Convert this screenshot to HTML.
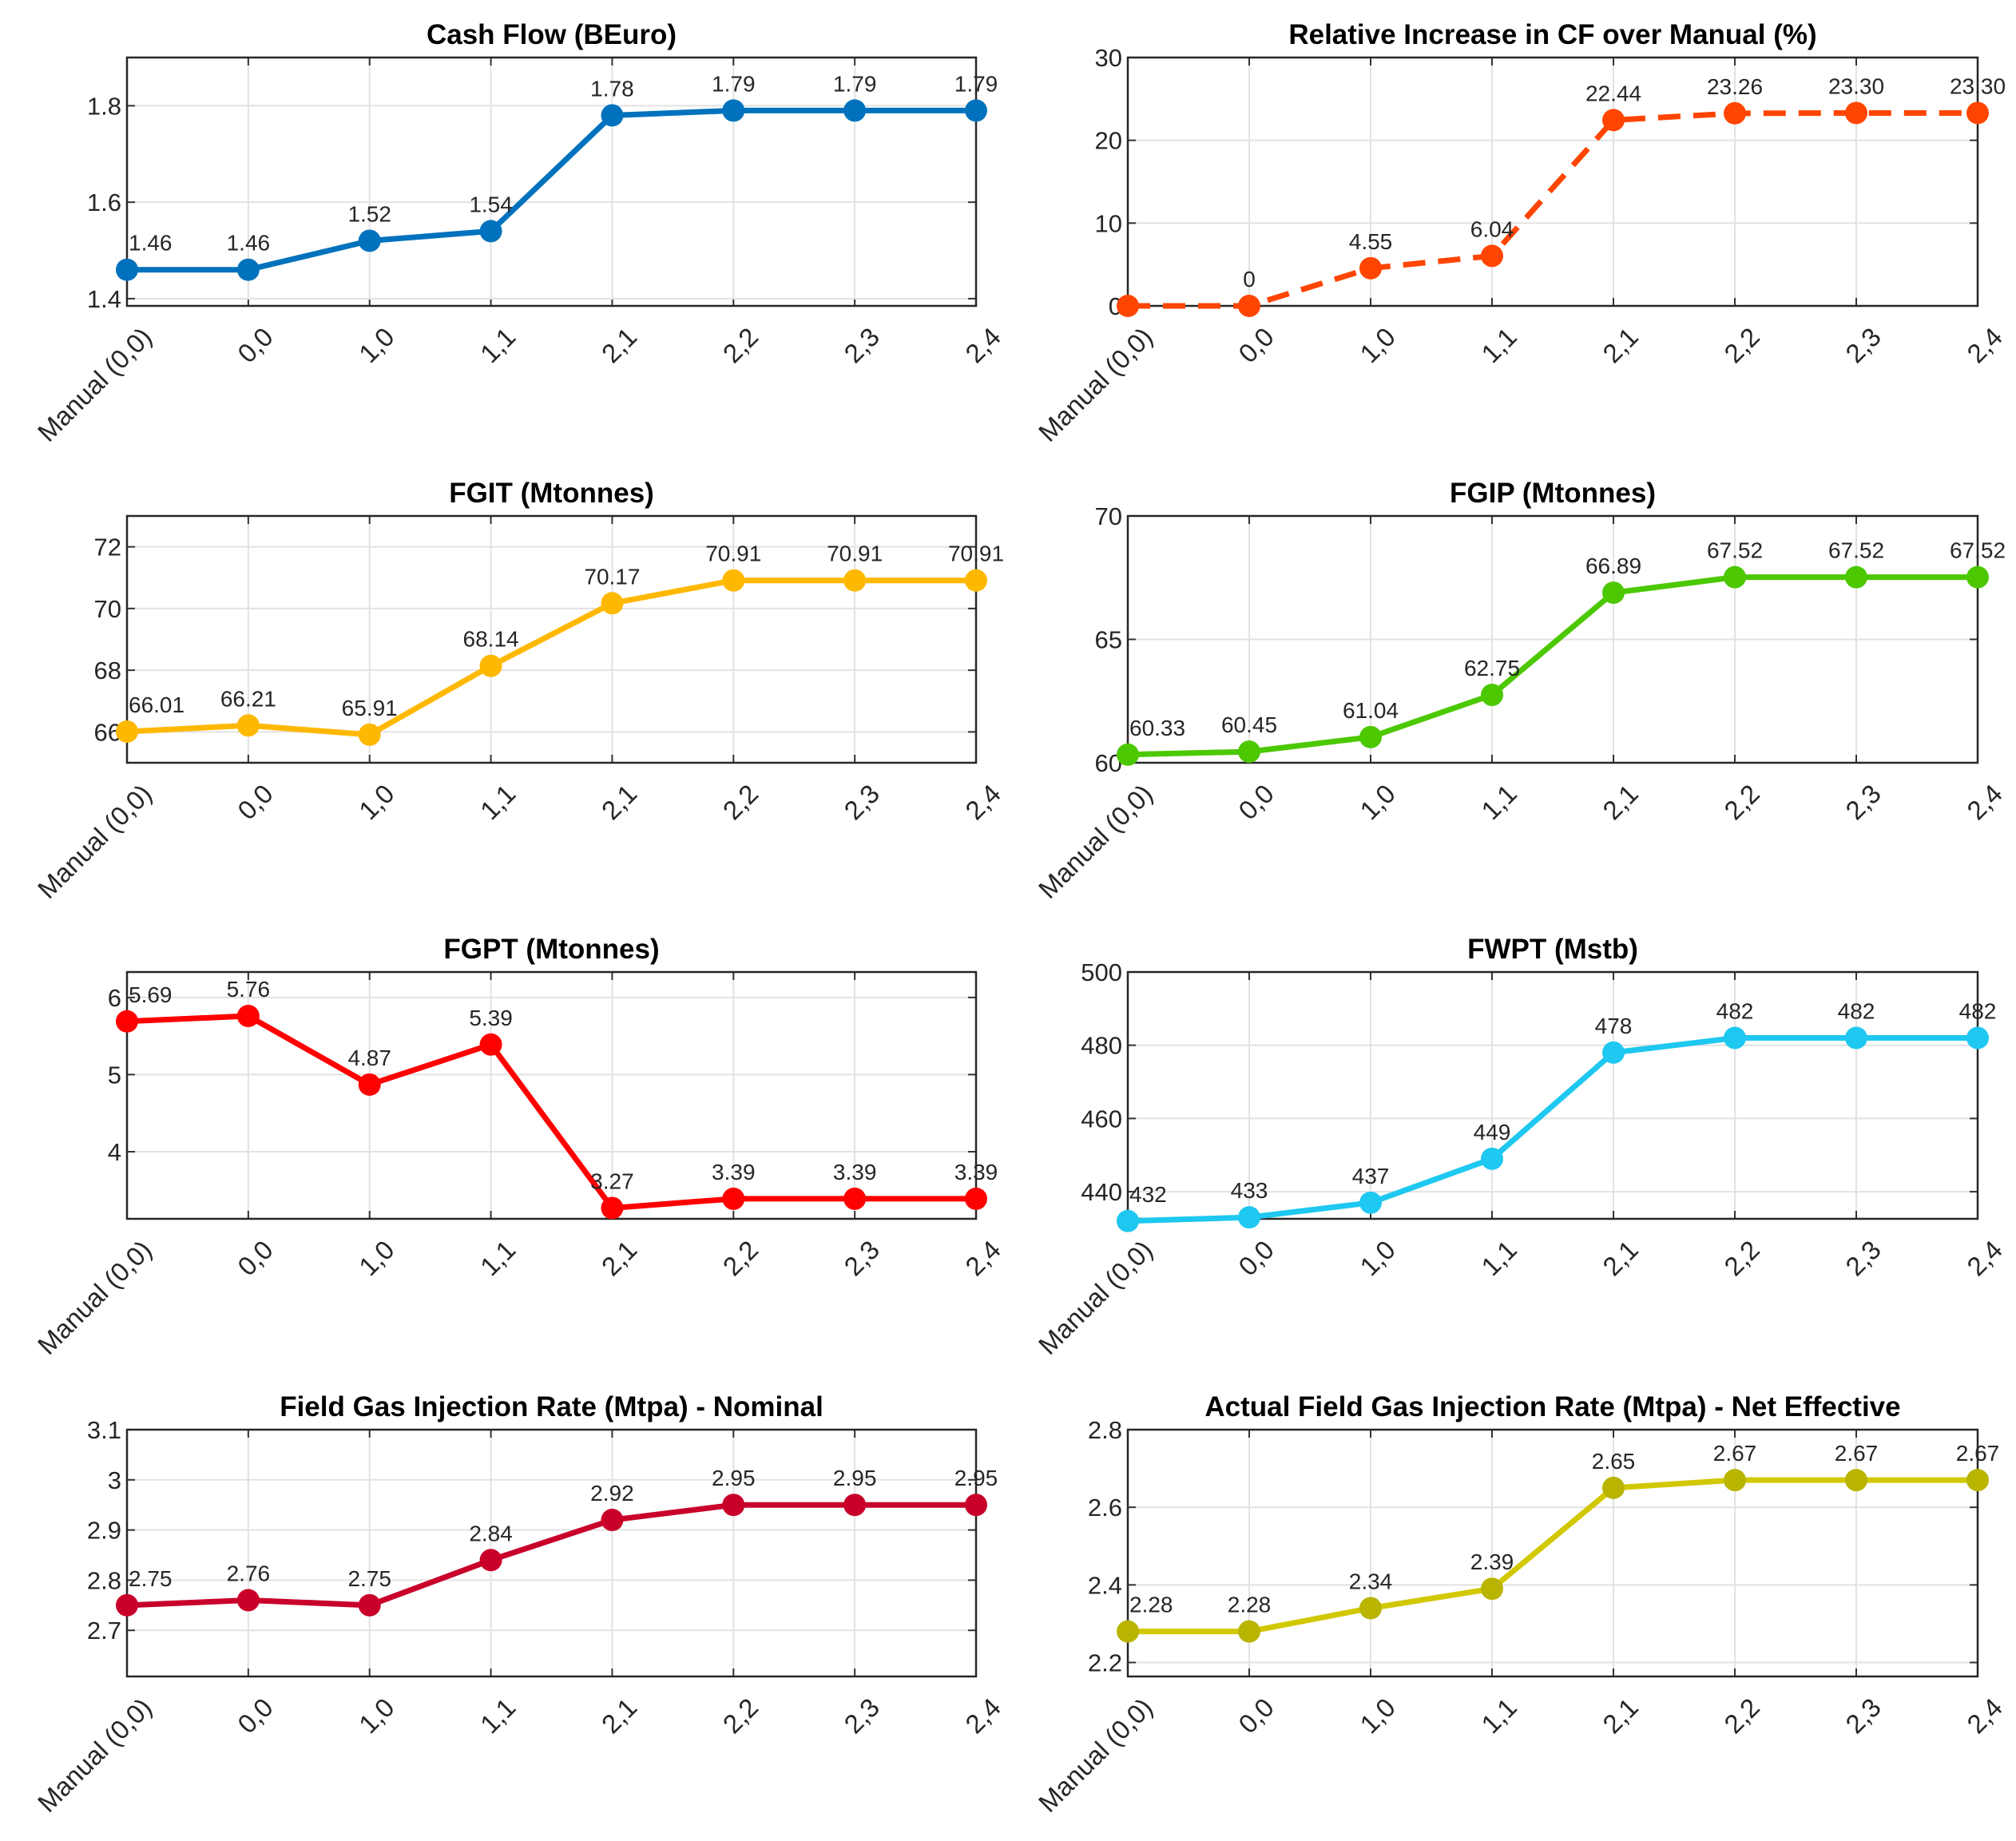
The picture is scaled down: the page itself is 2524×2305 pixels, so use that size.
<!DOCTYPE html>
<html><head><meta charset="utf-8"><style>
html,body{margin:0;padding:0;background:#fff;}
svg{display:block;font-family:"Liberation Sans",Arial,sans-serif;}
</style></head>
<body>
<svg id="fig" width="2524" height="2305" viewBox="0 0 2524 2305" xmlns="http://www.w3.org/2000/svg"></svg>
<script>
const categories = ["Manual (0,0)","0,0","1,0","1,1","2,1","2,2","2,3","2,4"];
const cashFlow = [1.46,1.46,1.52,1.54,1.78,1.79,1.79,1.79];
const cashFlowLabels = ["1.46","1.46","1.52","1.54","1.78","1.79","1.79","1.79"];
const relIncrease = [0,0,4.55,6.04,22.44,23.26,23.30,23.30];
const relIncreaseLabels = ["","0","4.55","6.04","22.44","23.26","23.30","23.30"];
const fgit = [66.01,66.21,65.91,68.14,70.17,70.91,70.91,70.91];
const fgitLabels = ["66.01","66.21","65.91","68.14","70.17","70.91","70.91","70.91"];
const fgip = [60.33,60.45,61.04,62.75,66.89,67.52,67.52,67.52];
const fgipLabels = ["60.33","60.45","61.04","62.75","66.89","67.52","67.52","67.52"];
const fgpt = [5.69,5.76,4.87,5.39,3.27,3.39,3.39,3.39];
const fgptLabels = ["5.69","5.76","4.87","5.39","3.27","3.39","3.39","3.39"];
const fwpt = [432,433,437,449,478,482,482,482];
const fwptLabels = ["432","433","437","449","478","482","482","482"];
const injNominal = [2.75,2.76,2.75,2.84,2.92,2.95,2.95,2.95];
const injNominalLabels = ["2.75","2.76","2.75","2.84","2.92","2.95","2.95","2.95"];
const injEffective = [2.28,2.28,2.34,2.39,2.65,2.67,2.67,2.67];
const injEffectiveLabels = ["2.28","2.28","2.34","2.39","2.65","2.67","2.67","2.67"];
const ticks1 = ["1.4","1.6","1.8"];
const ticks2 = ["0","10","20","30"];
const ticks3 = ["66","68","70","72"];
const ticks4 = ["60","65","70"];
const ticks5 = ["4","5","6"];
const ticks6 = ["440","460","480","500"];
const ticks7 = ["2.7","2.8","2.9","3","3.1"];
const ticks8 = ["2.2","2.4","2.6","2.8"];

const NS="http://www.w3.org/2000/svg";
const svg=document.getElementById('fig');
function mk(tag,attrs,parent){const e=document.createElementNS(NS,tag);for(const k in attrs)e.setAttribute(k,attrs[k]);(parent||svg).appendChild(e);return e;}

const charts=[
 {name:"cash-flow",title:"Cash Flow (BEuro)",vals:cashFlow,labels:cashFlowLabels,ticks:ticks1,ymin:1.385,ymax:1.9,color:"#0072BD",mcolor:"#0072BD",dash:false,col:0,row:0},
 {name:"relative-increase",title:"Relative Increase in CF over Manual (%)",vals:relIncrease,labels:relIncreaseLabels,ticks:ticks2,ymin:0,ymax:30,color:"#FF4500",mcolor:"#FF4500",dash:true,col:1,row:0},
 {name:"fgit",title:"FGIT (Mtonnes)",vals:fgit,labels:fgitLabels,ticks:ticks3,ymin:65,ymax:73,color:"#FFB800",mcolor:"#FFB800",dash:false,col:0,row:1},
 {name:"fgip",title:"FGIP (Mtonnes)",vals:fgip,labels:fgipLabels,ticks:ticks4,ymin:60,ymax:70,color:"#4CC800",mcolor:"#4CC800",dash:false,col:1,row:1},
 {name:"fgpt",title:"FGPT (Mtonnes)",vals:fgpt,labels:fgptLabels,ticks:ticks5,ymin:3.13,ymax:6.33,color:"#FF0000",mcolor:"#FF0000",dash:false,col:0,row:2},
 {name:"fwpt",title:"FWPT (Mstb)",vals:fwpt,labels:fwptLabels,ticks:ticks6,ymin:432.6,ymax:500,color:"#1EC8F0",mcolor:"#1EC8F0",dash:false,col:1,row:2},
 {name:"injection-nominal",title:"Field Gas Injection Rate (Mtpa) - Nominal",vals:injNominal,labels:injNominalLabels,ticks:ticks7,ymin:2.608,ymax:3.1,color:"#C8002A",mcolor:"#C8002A",dash:false,col:0,row:3},
 {name:"injection-effective",title:"Actual Field Gas Injection Rate (Mtpa) - Net Effective",vals:injEffective,labels:injEffectiveLabels,ticks:ticks8,ymin:2.164,ymax:2.8,color:"#D2C800",mcolor:"#B8B400",dash:false,col:1,row:3}
];
const colX=[[159,1222],[1412,2476]];
const rowY=[[72,383],[646,955],[1217,1526],[1790,2099]];

charts.forEach(c=>{
 const g=mk('g',{});
 
 
 const [x0,x1]=colX[c.col], [y0,y1]=rowY[c.row];
 const n=categories.length;
 const xs=i=>x0+(x1-x0)*i/(n-1);
 const ys=v=>y1-(v-c.ymin)/(c.ymax-c.ymin)*(y1-y0);
 mk('rect',{x:x0,y:y0,width:x1-x0,height:y1-y0,fill:'#fff'},g);
 categories.forEach((cat,i)=>{
  const l=mk('line',{x1:xs(i),x2:xs(i),y1:y0,y2:y1,stroke:'#e2e2e2','stroke-width':2},g);
  
  
  mk('line',{x1:xs(i),x2:xs(i),y1:y1,y2:y1-10,stroke:'#333','stroke-width':2},g);
  mk('line',{x1:xs(i),x2:xs(i),y1:y0,y2:y0+10,stroke:'#333','stroke-width':2},g);
  const tx=xs(i)+16, ty=y1+24;
  const t=mk('text',{x:tx,y:ty,'font-size':33,fill:'#262626','text-anchor':'end','dominant-baseline':'hanging',transform:`rotate(-45 ${tx} ${ty})`},g);
  
  
  t.textContent=cat;
 });
 c.ticks.forEach(tk=>{
  const v=parseFloat(tk), y=ys(v);
  const l=mk('line',{x1:x0,x2:x1,y1:y,y2:y,stroke:'#e2e2e2','stroke-width':2},g);
  
  
  mk('line',{x1:x0,x2:x0+10,y1:y,y2:y,stroke:'#333','stroke-width':2},g);
  mk('line',{x1:x1,x2:x1-10,y1:y,y2:y,stroke:'#333','stroke-width':2},g);
  const t=mk('text',{x:x0-7,y:y+11,'font-size':31,fill:'#262626','text-anchor':'end'},g);
  
  
  t.textContent=tk;
 });
 const box=mk('rect',{x:x0,y:y0,width:x1-x0,height:y1-y0,fill:'none',stroke:'#262626','stroke-width':2.5},g);
 
 
 const title=mk('text',{x:(x0+x1)/2,y:y0-17,'font-size':35,'font-weight':'bold',fill:'#000','text-anchor':'middle'},g);
 
 
 title.textContent=c.title;
 const pts=c.vals.map((v,i)=>xs(i)+','+ys(v)).join(' ');
 const line=mk('polyline',{points:pts,fill:'none',stroke:c.color,'stroke-width':7,'stroke-linejoin':'round'},g);
 if(c.dash) line.setAttribute('stroke-dasharray','28 16');
 
 
 c.vals.forEach((v,i)=>{
  const p=mk('circle',{cx:xs(i),cy:ys(v),r:14,fill:c.mcolor},g);
  
  
  const lx=i===0?xs(i)+2:xs(i);
  const t=mk('text',{x:lx,y:ys(v)-24,'font-size':28,fill:'#262626','text-anchor':i===0?'start':'middle'},g);
  
  
  t.textContent=c.labels[i];
 });
});
</script>
</body></html>
